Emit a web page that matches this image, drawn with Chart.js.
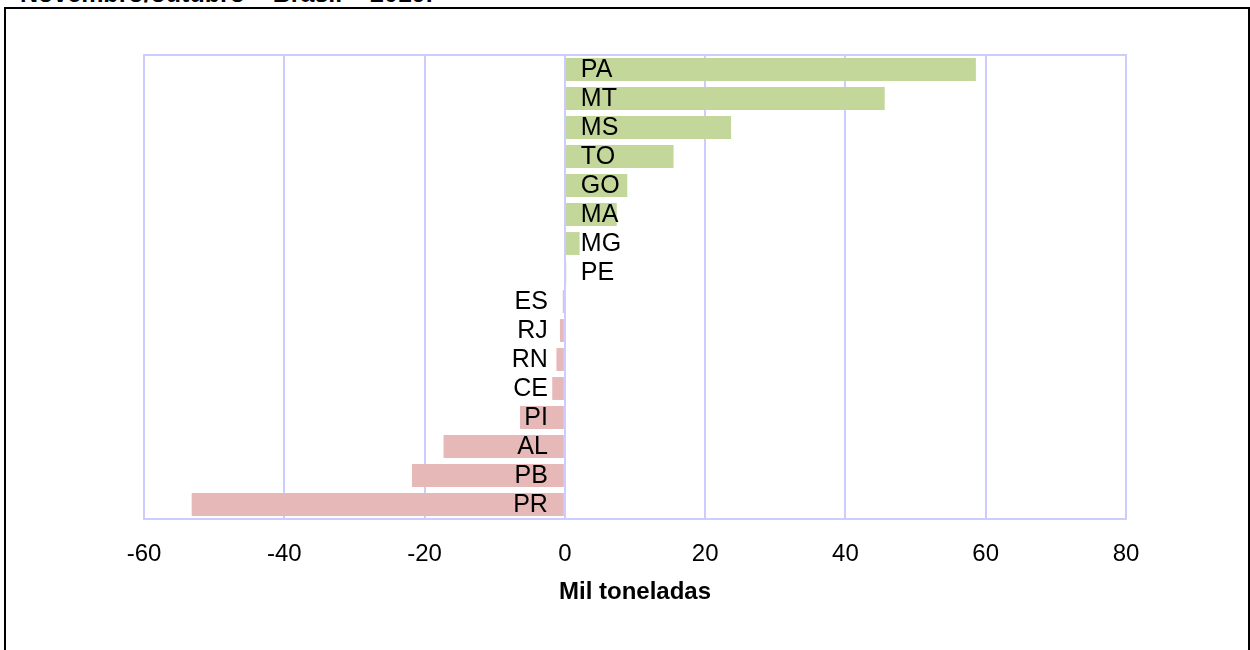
<!DOCTYPE html>
<html>
<head>
<meta charset="utf-8">
<script src="https://cdn.jsdelivr.net/npm/chart.js@4/dist/chart.umd.min.js"></script>
<style>
  html, body { margin: 0; padding: 0; background: #fff; overflow: hidden; }
  #wrap { position: relative; width: 1250px; height: 650px; }
  #frame { position: absolute; left: 4px; top: 7px; width: 1242px; height: 660px;
           border-left: 2px solid #000; border-top: 2px solid #000; border-right: 2px solid #000; }
  #titulo { position: absolute; left: 20px; top: -19px; font: bold 25px "Liberation Sans", Arial, sans-serif;
            line-height: 25px; white-space: nowrap; color: #000; }
  canvas { position: absolute; left: 0; top: 0; }
</style>
</head>
<body>
<div id="wrap">
  <div id="titulo">Novembro/outubro – Brasil – 2019.</div>
  <div id="frame"></div>
  <canvas id="grafico" width="1250" height="650"></canvas>
</div>
<script>
// estados (de cima para baixo) e variação em mil toneladas
const estados = ['PA', 'MT', 'MS', 'TO', 'GO', 'MA', 'MG', 'PE', 'ES', 'RJ', 'RN', 'CE', 'PI', 'AL', 'PB', 'PR'];
const variacao = [58.6, 45.6, 23.7, 15.5, 8.9, 7.4, 2.1, 0.2, -0.3, -0.7, -1.2, -1.8, -6.4, -17.3, -21.8, -53.2];
const ticksX = [-60, -40, -20, 0, 20, 40, 60, 80];

const VERDE = '#c4d79b';
const ROSA = '#e6b8b7';
const LILAS = '#ccccff';

// moldura da área do gráfico
const moldura = {
  id: 'moldura',
  afterDatasetsDraw(chart) {
    const a = chart.chartArea;
    const ctx = chart.ctx;
    ctx.save();
    ctx.strokeStyle = LILAS;
    ctx.lineWidth = 2;
    ctx.strokeRect(a.left, a.top, a.right - a.left, a.bottom - a.top);
    ctx.restore();
  }
};

// rótulos dos estados junto ao zero
const rotulos = {
  id: 'rotulos',
  afterDatasetsDraw(chart) {
    const ctx = chart.ctx;
    const x0 = chart.scales.x.getPixelForValue(0);
    const meta = chart.getDatasetMeta(0);
    ctx.save();
    ctx.font = '25px "Liberation Sans", Arial, sans-serif';
    ctx.fillStyle = '#000';
    ctx.textBaseline = 'middle';
    meta.data.forEach((bar, i) => {
      if (variacao[i] >= 0) {
        ctx.textAlign = 'left';
        ctx.fillText(estados[i], x0 + 16, bar.y + 1);
      } else {
        ctx.textAlign = 'right';
        ctx.fillText(estados[i], x0 - 17, bar.y + 1);
      }
    });
    ctx.restore();
  }
};

new Chart(document.getElementById('grafico'), {
  type: 'bar',
  data: {
    labels: estados,
    datasets: [{
      data: variacao,
      backgroundColor: variacao.map(v => v >= 0 ? VERDE : ROSA),
      borderWidth: 0,
      barPercentage: 0.79,
      categoryPercentage: 1
    }]
  },
  options: {
    indexAxis: 'y',
    responsive: false,
    animation: false,
    layout: { padding: { left: 144, right: 124, top: 55, bottom: 0 } },
    plugins: { legend: { display: false }, tooltip: { enabled: false } },
    scales: {
      x: {
        min: -60,
        max: 80,
        afterBuildTicks: s => { s.ticks = ticksX.map(v => ({ value: v })); },
        afterFit: s => { s.height = 131; },
        grid: { color: LILAS, lineWidth: 2, drawTicks: false },
        border: { display: false },
        ticks: {
          color: '#000',
          padding: 21,
          font: { family: '"Liberation Sans", Arial, sans-serif', size: 24 }
        },
        title: {
          display: true,
          text: 'Mil toneladas',
          color: '#000',
          padding: { top: 43, bottom: 43 },
          font: { family: '"Liberation Sans", Arial, sans-serif', size: 24, weight: 'bold' }
        }
      },
      y: { display: false }
    }
  },
  plugins: [moldura, rotulos]
});
</script>
</body>
</html>
